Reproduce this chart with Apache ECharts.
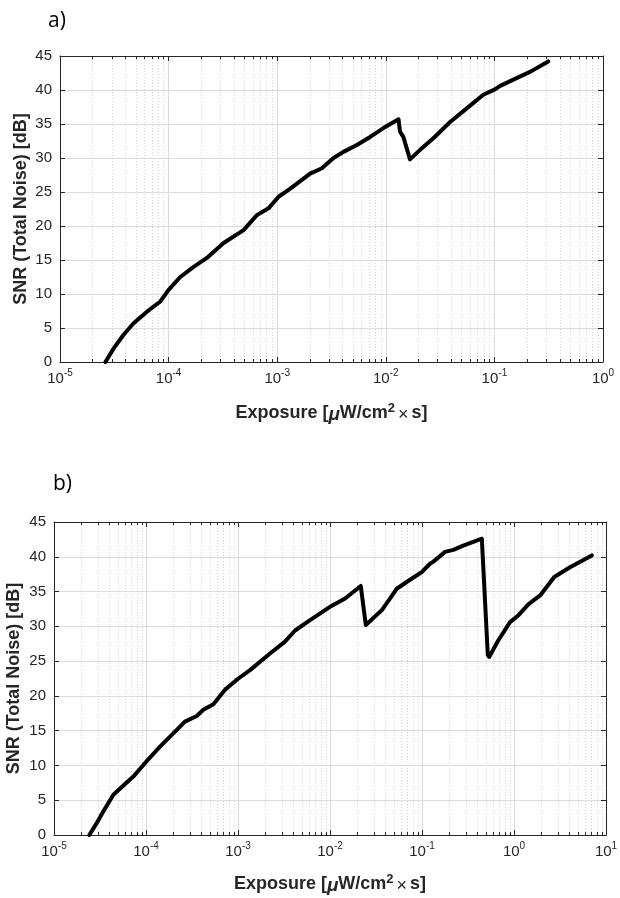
<!DOCTYPE html>
<html><head><meta charset="utf-8">
<script src="https://cdn.jsdelivr.net/npm/echarts@6/dist/echarts.min.js"></script>
<style>html,body{margin:0;padding:0;background:#fff}#c{width:620px;height:898px}</style>
</head><body><div id="c"></div>
<script>
// Panel a)
const exposureA = [2.62e-5,3.12e-5,3.85e-5,4.76e-5,6.32e-5,8.39e-5,1.0e-4,1.28e-4,1.70e-4,2.25e-4,3.21e-4,4.90e-4,6.50e-4,8.32e-4,1.03e-3,1.32e-3,2.01e-3,2.58e-3,3.30e-3,4.07e-3,5.41e-3,7.18e-3,9.51e-3,1.31e-2,1.35e-2,1.45e-2,1.67e-2,2.07e-2,2.74e-2,3.91e-2,5.56e-2,7.91e-2,1.01e-1,1.13e-1,1.53e-1,2.15e-1,3.13e-1];
const snrA = [0,2.0,4.0,5.7,7.4,8.9,10.6,12.5,14.0,15.3,17.5,19.4,21.6,22.6,24.3,25.5,27.7,28.5,30.0,30.9,31.9,33.1,34.4,35.7,33.9,33.1,29.8,31.2,32.9,35.3,37.3,39.3,40.1,40.6,41.6,42.7,44.2];
// Panel b)
const exposureB = [2.42e-5,2.91e-5,3.44e-5,4.42e-5,5.45e-5,7.28e-5,1.0e-4,1.42e-4,1.98e-4,2.65e-4,3.56e-4,4.20e-4,5.40e-4,7.23e-4,1.01e-3,1.35e-3,2.23e-3,3.24e-3,4.17e-3,6.07e-3,1.0e-2,1.46e-2,2.16e-2,2.24e-2,2.45e-2,3.65e-2,5.31e-2,7.41e-2,9.93e-2,1.22e-1,1.33e-1,1.78e-1,2.19e-1,2.81e-1,4.47e-1,5.19e-1,5.37e-1,6.76e-1,9.06e-1,1.12,1.44,1.94,2.74,4.06,7.01];
const snrB = [0,1.7,3.4,5.8,6.9,8.4,10.5,12.7,14.6,16.3,17.1,18.0,18.8,20.9,22.5,23.7,26.1,27.8,29.4,30.9,32.8,34.0,35.8,35.8,30.2,32.3,35.4,36.7,37.8,39.0,39.3,40.7,41.0,41.6,42.6,25.9,25.6,28.0,30.6,31.6,33.2,34.5,37.1,38.5,40.2];
const xMinA = 1e-5, xMaxA = 1;
const xMinB = 1e-5, xMaxB = 10;
const yMin = 0, yMax = 45, yStep = 5;
const panelLabels = ['a)', 'b)'];
const xTitle = 'Exposure [{mu|μ}W/cm{sup|2}{x|×}s]';
const yTitle = 'SNR (Total Noise) [dB]';

const FONT = '"Liberation Sans", Arial, sans-serif';
const AX = '#262626';
const TITLE_FS = 18;

const grids = [
  {left: 60, right: 17, top: 56, height: 306, outerBoundsMode: 'none'},
  {left: 54, right: 14, top: 522, height: 313, outerBoundsMode: 'none'}
];

function xAxisCfg(gi, min, max, top) {
  return {
    type: 'log', logBase: 10, gridIndex: gi, min: min, max: max,
    position: top ? 'top' : 'bottom',
    axisLine: {show: true, onZero: false, lineStyle: {color: AX, width: 1}},
    axisTick: {show: true, inside: true, length: 5, lineStyle: {color: AX, width: 1}},
    minorTick: {show: true, splitNumber: 9, length: 3, lineStyle: {color: AX, width: 1}},
    axisLabel: {
      show: !top, margin: 6, color: AX, fontFamily: FONT,
      formatter: function (v) { return '{b|10}{s|' + Math.round(Math.log10(v)) + '}'; },
      rich: {
        b: {fontSize: 15, fontFamily: FONT, color: AX, verticalAlign: 'bottom'},
        s: {fontSize: 10, fontFamily: FONT, color: AX, verticalAlign: 'bottom', padding: [0, 0, 8, 0]}
      }
    },
    splitLine: {show: !top, lineStyle: {color: '#dcdcdc', width: 1}},
    minorSplitLine: {show: !top, lineStyle: {color: '#d4d4d4', width: 1, type: [1, 2]}},
    name: top ? '' : xTitle,
    nameLocation: 'middle', nameGap: gi === 0 ? 40 : 38, nameMoveOverlap: false,
    nameTextStyle: {
      fontSize: TITLE_FS, fontWeight: 'bold', fontFamily: FONT, color: AX,
      rich: {
        mu: {fontSize: TITLE_FS + 1, fontStyle: 'italic', fontFamily: FONT, color: AX, verticalAlign: 'bottom'},
        sup: {fontSize: 13, fontWeight: 'bold', fontFamily: FONT, color: AX, verticalAlign: 'bottom', padding: [0, 0, 9, 0]},
        x: {fontSize: TITLE_FS, fontWeight: 'normal', fontFamily: FONT, color: AX, verticalAlign: 'bottom', padding: [0, 3, 0, 3]}
      }
    }
  };
}
function yAxisCfg(gi, right) {
  return {
    type: 'value', gridIndex: gi, min: yMin, max: yMax, interval: yStep,
    position: right ? 'right' : 'left',
    axisLine: {show: true, onZero: false, lineStyle: {color: AX, width: 1}},
    axisTick: {show: true, inside: true, length: 5, lineStyle: {color: AX, width: 1}},
    axisLabel: {show: !right, margin: 8, fontSize: 15, fontFamily: FONT, color: AX},
    splitLine: {show: !right, lineStyle: {color: '#dcdcdc', width: 1}},
    name: right ? '' : yTitle,
    nameLocation: 'middle', nameGap: gi === 0 ? 30 : 31, nameRotate: 90, nameMoveOverlap: false,
    nameTextStyle: {fontSize: TITLE_FS, fontWeight: 'bold', fontFamily: FONT, color: AX}
  };
}

const chart = echarts.init(document.getElementById('c'), null, {renderer: 'canvas'});
chart.setOption({
  animation: false,
  backgroundColor: '#fff',
  title: [
    {text: panelLabels[0], left: 43, top: 6, textStyle: {fontSize: 21, fontWeight: 'normal', color: '#000', fontFamily: '"Open Sans", sans-serif'}},
    {text: panelLabels[1], left: 48, top: 469, textStyle: {fontSize: 21, fontWeight: 'normal', color: '#000', fontFamily: '"Open Sans", sans-serif'}}
  ],
  grid: grids,
  xAxis: [xAxisCfg(0, xMinA, xMaxA, false), xAxisCfg(0, xMinA, xMaxA, true),
          xAxisCfg(1, xMinB, xMaxB, false), xAxisCfg(1, xMinB, xMaxB, true)],
  yAxis: [yAxisCfg(0, false), yAxisCfg(0, true), yAxisCfg(1, false), yAxisCfg(1, true)],
  series: [
    {type: 'line', xAxisIndex: 0, yAxisIndex: 0, showSymbol: false, symbol: 'none',
     lineStyle: {color: '#000', width: 4, join: 'round', cap: 'round'},
     data: exposureA.map((x, i) => [x, snrA[i]])},
    {type: 'line', xAxisIndex: 2, yAxisIndex: 2, showSymbol: false, symbol: 'none',
     lineStyle: {color: '#000', width: 4, join: 'round', cap: 'round'},
     data: exposureB.map((x, i) => [x, snrB[i]])}
  ]
});
</script></body></html>
